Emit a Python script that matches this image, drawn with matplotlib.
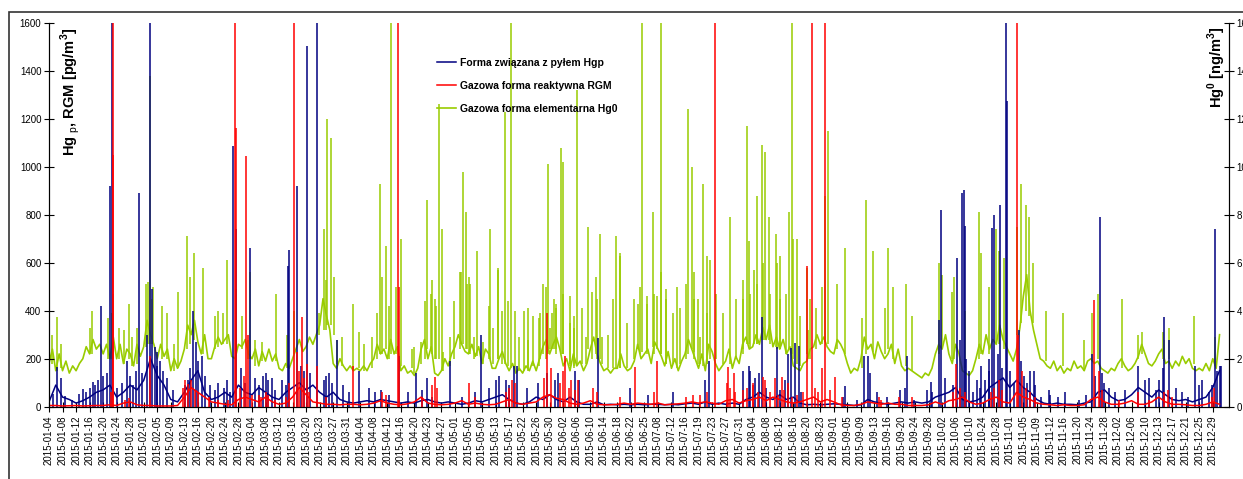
import numpy as np
import matplotlib.pyplot as plt
from matplotlib.patches import Rectangle

plt.rcParams['font.family'] = ['Liberation Sans', 'DejaVu Sans']
plt.rcParams['mathtext.fontset'] = 'custom'
plt.rcParams['mathtext.rm'] = 'Liberation Sans'
plt.rcParams['mathtext.bf'] = 'Liberation Sans:bold'

# tick labels (category axis, one label every ~4 days of hourly data)
dates = ['2015-01-04', '2015-01-08', '2015-01-12', '2015-01-16', '2015-01-20', '2015-01-24', '2015-01-28',
         '2015-02-01', '2015-02-05', '2015-02-09', '2015-02-13', '2015-02-16', '2015-02-20', '2015-02-24',
         '2015-02-28', '2015-03-04', '2015-03-08', '2015-03-12', '2015-03-16', '2015-03-20', '2015-03-23',
         '2015-03-27', '2015-03-31', '2015-04-04', '2015-04-08', '2015-04-12', '2015-04-16', '2015-04-20',
         '2015-04-23', '2015-04-27', '2015-05-01', '2015-05-05', '2015-05-09', '2015-05-13', '2015-05-17',
         '2015-05-22', '2015-05-26', '2015-05-30', '2015-06-02', '2015-06-06', '2015-06-10', '2015-06-14',
         '2015-06-18', '2015-06-22', '2015-06-25', '2015-07-08', '2015-07-12', '2015-07-16', '2015-07-19',
         '2015-07-23', '2015-07-27', '2015-07-31', '2015-08-04', '2015-08-08', '2015-08-12', '2015-08-16',
         '2015-08-20', '2015-08-23', '2015-09-01', '2015-09-05', '2015-09-09', '2015-09-13', '2015-09-16',
         '2015-09-20', '2015-09-24', '2015-09-28', '2015-10-02', '2015-10-06', '2015-10-10', '2015-10-24',
         '2015-10-28', '2015-11-01', '2015-11-05', '2015-11-09', '2015-11-12', '2015-11-16', '2015-11-20',
         '2015-11-24', '2015-11-28', '2015-12-02', '2015-12-06', '2015-12-10', '2015-12-13', '2015-12-17',
         '2015-12-21', '2015-12-25', '2015-12-29']

# Hgp [pg/m3], two readings per label interval
hgp_base = [20, 90, 40, 30, 15, 25, 40, 60, 70, 90, 40, 60, 90, 70, 110, 200, 130, 90, 30, 20,
            60, 110, 150, 60, 30, 40, 60, 40, 90, 60, 50, 80, 60, 40,
            30, 60, 80, 100, 70, 90, 60, 40, 60, 30, 20, 15, 20, 25, 20, 30, 25, 20, 15, 20,
            15, 25, 30, 20, 15, 20, 15, 10, 15, 25, 20, 30, 40, 50,
            30, 15, 10, 20, 40, 30, 50, 30, 20, 40, 20, 10, 10, 20, 8, 10, 8, 10, 8, 10,
            8, 10, 10, 8, 10, 8, 12, 15, 10, 20, 10, 15, 10, 15, 10, 30,
            40, 60, 40, 30, 50, 30, 40, 15, 8, 10, 8, 10, 12, 10, 8, 5, 8, 30, 20, 15,
            10, 15, 20, 15, 20, 15, 20, 40, 50, 60, 80, 30, 20, 25,
            40, 80, 100, 120, 80, 110, 80, 60, 30, 15, 10, 15, 10, 10, 8, 15, 20, 60, 70, 40,
            25, 30, 50, 80, 60, 40, 70, 50, 30, 25, 30, 20, 30, 40, 80, 150]

# RGM [pg/m3], two readings per label interval
rgm_base = [5, 5, 3, 4, 5, 3, 4, 5, 5, 8, 5, 15, 20, 8, 5, 5, 3, 3, 3, 5,
            40, 80, 60, 40, 20, 15, 10, 8, 30, 40, 30, 20, 40, 20,
            10, 15, 40, 80, 50, 20, 15, 10, 10, 8, 10, 10, 8, 10, 15, 25, 15, 10, 8, 12,
            20, 40, 15, 10, 8, 10, 15, 25, 10, 15, 10, 8, 10, 20,
            30, 15, 10, 15, 20, 40, 50, 35, 30, 15, 10, 15, 25, 10, 8, 8, 10, 15, 10, 15,
            12, 10, 15, 8, 10, 12, 15, 20, 15, 20, 15, 10, 25, 30, 15, 25,
            30, 40, 25, 40, 30, 20, 15, 20, 30, 40, 20, 30, 20, 8, 5, 5, 10, 20, 15, 10,
            15, 10, 10, 5, 5, 5, 8, 20, 10, 25, 30, 40, 20, 10,
            15, 30, 40, 20, 15, 60, 40, 30, 15, 10, 8, 5, 8, 5, 5, 8, 30, 40, 20, 10,
            10, 15, 25, 10, 10, 20, 40, 20, 10, 10, 8, 5, 5, 10, 20, 10]

# Hg0 [ng/m3], four readings per label interval
hg0_base = [1.8, 2.4, 1.5, 2.2, 1.5, 1.9, 1.4, 1.7, 1.5, 1.8, 2.0, 2.5, 2.2, 2.8, 2.4, 2.6,
            2.2, 2.6, 2.0, 2.9, 2.0, 2.6, 1.8, 2.4, 2.2, 1.7, 2.6, 2.1, 2.5, 3.6, 3.0, 2.6,
            2.0, 2.6, 2.1, 2.4, 1.5, 2.0, 1.6, 1.9, 2.4, 3.4, 3.0, 3.6, 2.7, 2.2, 3.0, 2.0,
            2.0, 2.5, 2.9, 2.6, 2.8, 3.0, 2.1, 2.0, 2.6, 2.5, 2.8, 2.2, 2.0, 2.4, 1.7, 2.3,
            1.9, 2.4, 1.9, 2.2, 1.6, 1.5, 1.8, 1.6, 2.0, 2.4, 2.8, 2.3, 2.5, 2.9, 2.6, 3.0,
            3.4, 4.5, 3.8, 3.2, 1.8, 1.6, 2.0, 1.7, 1.5, 1.7, 1.5, 1.6, 1.5, 1.7, 1.5, 1.8,
            2.0, 2.6, 2.2, 2.4, 2.0, 2.8, 2.2, 2.5, 1.5, 1.7, 1.4, 1.5, 1.3, 1.6, 2.4, 2.8,
            2.0, 2.5, 1.4, 1.3, 1.5, 2.0, 1.7, 2.2, 2.5, 3.0, 2.6, 2.3, 2.2, 2.6, 2.1, 2.5,
            1.8, 2.4, 2.2, 1.6, 1.6, 2.0, 2.3, 1.8, 1.5, 1.8, 1.4, 1.6, 1.4, 1.7, 1.5, 1.9,
            1.5, 2.0, 2.5, 2.8, 2.2, 2.6, 2.9, 2.4, 1.7, 2.0, 1.5, 2.2, 1.7, 1.9, 1.5, 1.8,
            2.4, 2.9, 2.2, 1.8, 1.5, 1.6, 1.4, 1.6, 1.6, 2.2, 1.7, 1.5, 1.6, 1.9, 2.6, 2.0,
            2.2, 2.4, 1.8, 2.7, 2.4, 2.1, 1.7, 2.3, 1.6, 2.0, 1.5, 1.9, 2.2, 2.8, 2.4, 2.0,
            1.6, 2.2, 1.5, 2.6, 2.3, 1.8, 1.5, 1.7, 1.9, 2.4, 1.6, 2.1, 1.8, 2.6, 2.9, 2.4,
            2.5, 3.0, 2.6, 3.3, 2.8, 3.4, 2.5, 2.9, 2.4, 2.8, 2.2, 2.5, 1.7, 1.6, 1.5, 1.8,
            1.9, 2.4, 2.5, 3.0, 2.6, 2.9, 2.5, 2.3, 2.2, 2.8, 2.6, 2.3, 1.8, 1.4, 1.6, 1.5,
            2.0, 2.9, 2.4, 2.6, 2.0, 2.7, 2.3, 2.0, 2.2, 2.6, 1.8, 2.4, 1.7, 1.5, 1.6, 1.5,
            1.4, 1.3, 1.2, 1.4, 1.3, 1.6, 2.2, 2.6, 2.4, 3.0, 2.2, 1.8, 2.6, 2.2, 1.5, 1.4,
            1.3, 1.5, 2.0, 2.6, 2.2, 3.0, 2.4, 2.8, 2.6, 3.4, 2.8, 2.5, 2.2, 1.9, 2.4, 3.3,
            4.6, 5.5, 4.0, 3.2, 2.6, 2.0, 1.9, 1.7, 1.6, 1.9, 1.5, 1.7, 1.4, 1.6, 1.5, 1.9,
            1.6, 1.7, 1.5, 1.9, 2.0, 1.8, 1.9, 1.6, 1.5, 1.4, 1.6, 1.5, 1.8, 2.0, 1.7, 1.5,
            1.6, 1.8, 2.1, 2.6, 2.2, 1.8, 1.7, 1.9, 2.2, 2.4, 1.8, 1.9, 1.6, 1.9, 1.7, 2.1,
            1.8, 2.0, 1.6, 1.5, 1.6, 1.5, 1.8, 1.5, 2.0, 1.6, 3.0]

# single-hour peaks: (position in label intervals, peak)
hgp_spikes = [(0.6, 165), (0.86, 120), (2.5, 75), (3.27, 105), (3.84, 420), (4.5, 920), (4.65, 1650),
              (5.74, 190), (6.43, 150), (6.67, 890), (7.22, 300), (7.46, 1650), (7.64, 490), (8.0, 170),
              (10.3, 110), (10.66, 400), (11.03, 190), (13.12, 110), (13.6, 1085), (13.8, 740),
              (14.85, 660), (16.0, 140), (16.5, 120), (17.75, 655), (17.65, 585), (18.3, 920),
              (19.05, 1505), (19.8, 1650), (20.5, 130), (21.3, 280), (22.9, 150), (25.87, 210),
              (27.1, 140), (27.96, 120), (29.6, 190), (31.9, 300), (33.25, 130), (33.75, 110),
              (34.36, 170), (34.56, 170), (35.3, 80), (36.16, 100), (36.77, 140), (37.4, 110),
              (37.6, 140), (38.87, 150), (39.2, 110), (40.6, 285), (42.9, 80), (44.3, 50), (46.1, 60),
              (48.5, 110), (48.8, 190), (51.3, 150), (51.7, 170), (51.8, 150), (52.5, 140), (52.7, 375),
              (53.8, 250), (54.6, 220), (54.8, 245), (55.1, 265), (55.4, 255), (58.8, 85), (60.25, 210),
              (60.5, 210), (60.7, 140), (62.9, 70), (63.4, 210), (64.9, 70), (65.2, 105), (65.8, 360),
              (65.9, 820), (67.1, 620), (67.3, 280), (67.5, 890), (67.6, 905), (67.7, 755), (68.6, 110),
              (68.9, 170), (69.5, 150), (69.7, 745), (69.8, 800), (70.1, 220), (70.3, 840), (70.74, 1650),
              (70.8, 1275), (71.7, 320), (71.8, 190), (72.5, 150), (72.8, 150), (73.9, 70), (75.1, 60),
              (77.1, 220), (77.7, 790), (77.8, 140), (80.5, 170), (82.4, 375), (82.8, 280), (84.7, 170),
              (86.15, 740), (86.3, 150), (86.6, 170)]

# smaller hourly excursions of Hgp
hgp_small = [(0.3, 55), (1.2, 45), (1.7, 30), (2.2, 55), (2.7, 60), (3.0, 80), (3.4, 90), (3.6, 110),
             (4.0, 130), (4.3, 140), (5.0, 80), (5.4, 100), (6.0, 130), (6.2, 90), (6.85, 140), (7.8, 250),
             (7.95, 230), (8.2, 190), (8.45, 150), (8.7, 120), (9.2, 70), (10.05, 90), (10.4, 160),
             (10.9, 270), (11.3, 210), (11.5, 130), (11.9, 90), (12.3, 70), (12.5, 100), (12.9, 80),
             (13.4, 60), (14.2, 160), (14.5, 100), (15.2, 120), (15.5, 90), (15.8, 130), (16.2, 110),
             (16.7, 70), (17.25, 110), (17.5, 90), (18.6, 170), (18.85, 150), (19.3, 140), (20.3, 110),
             (20.7, 140), (20.9, 100), (21.7, 90), (22.2, 60), (23.65, 80), (24.1, 60), (24.5, 70),
             (25.1, 50), (26.5, 60), (27.6, 70), (28.3, 40), (30.5, 40), (31.5, 60), (32.5, 80),
             (33.0, 110), (34.0, 90), (52.2, 120), (53.0, 80), (54.0, 70), (54.4, 110), (55.6, 60),
             (58.7, 40), (59.7, 30), (61.2, 60), (61.9, 40), (63.25, 80), (63.9, 30), (65.25, 60),
             (66.2, 120), (66.8, 90), (67.8, 200), (67.95, 150), (68.3, 60), (68.8, 80), (69.2, 110),
             (69.45, 200), (70.4, 160), (71.05, 150), (71.3, 100), (72.05, 130), (72.3, 100), (72.9, 90),
             (73.3, 40), (74.0, 50), (74.6, 40), (76.1, 30), (76.6, 50), (77.3, 130), (77.95, 100),
             (78.3, 80), (78.8, 60), (79.55, 70), (81.0, 110), (81.3, 120), (81.8, 70), (82.0, 110),
             (82.3, 160), (83.25, 80), (83.7, 60), (84.2, 40), (85.0, 90), (85.2, 110), (85.7, 60),
             (85.95, 90), (86.5, 170)]

rgm_spikes = [(4.6, 60), (4.72, 1050), (4.75, 1650), (5.9, 35), (7.45, 210), (13.77, 1650), (13.85, 1160),
              (14.55, 1045), (14.7, 300), (15.5, 50), (17.74, 100), (18.1, 1650), (18.35, 230),
              (18.7, 375), (19.1, 180), (19.8, 170), (22.5, 170), (25.8, 1650), (25.85, 500), (28.5, 125),
              (31.04, 100), (34.2, 110), (34.43, 100), (36.8, 390), (38.1, 210), (39.1, 110), (43.3, 165),
              (44.9, 190), (49.2, 1650), (50.15, 165), (50.6, 140), (52.0, 100), (52.8, 125), (53.65, 120),
              (54.2, 125), (54.6, 100), (56.05, 585), (56.35, 1650), (57.1, 160), (57.35, 1650),
              (58.08, 125), (67.0, 180), (70.2, 110), (71.5, 1650), (71.6, 300), (71.9, 150),
              (77.2, 445), (80.5, 60), (82.7, 70), (86.1, 80)]

rgm_small = [(5.6, 30), (9.9, 80), (10.05, 110), (10.3, 95), (10.5, 110), (10.8, 70), (11.0, 60),
             (11.8, 40), (12.5, 30), (13.25, 30), (14.1, 80), (14.4, 130), (15.0, 50), (15.7, 40),
             (16.0, 60), (16.2, 50), (16.7, 30), (17.5, 40), (18.5, 150), (18.85, 120), (19.2, 60),
             (20.45, 40), (24.6, 60), (24.9, 50), (27.6, 40), (28.3, 90), (28.7, 80), (31.5, 40),
             (33.75, 60), (34.0, 80), (36.6, 120), (37.1, 160), (37.75, 100), (38.0, 150), (38.4, 80),
             (38.6, 110), (38.9, 70), (40.2, 80), (40.5, 60), (42.2, 40), (44.7, 60), (47.1, 40),
             (47.6, 50), (48.1, 50), (48.6, 60), (50.1, 100), (50.3, 80), (50.7, 60), (51.3, 70),
             (51.55, 80), (52.05, 90), (52.4, 60), (52.9, 110), (53.3, 60), (53.9, 50), (54.3, 70),
             (54.9, 40), (55.25, 50), (55.75, 60), (56.6, 80), (56.85, 60), (57.7, 70), (58.6, 40),
             (61.3, 40), (61.5, 30), (62.8, 40), (63.75, 40), (66.8, 60), (67.3, 80), (67.7, 60),
             (69.6, 60), (69.8, 80), (70.45, 70), (72.2, 80), (72.5, 60), (72.9, 40), (77.6, 150),
             (77.8, 70), (79.1, 30), (81.3, 30), (82.4, 60), (83.0, 40), (85.95, 40)]

# (position, foot, peak) in ng/m3
hg0_spikes = [(0.25, 1.8, 3.0), (0.62, 1.5, 3.75), (0.86, 1.6, 2.6), (3.0, 2.2, 3.3), (3.2, 2.2, 4.0),
              (4.36, 2.0, 3.7), (4.63, 2.0, 3.9), (4.70, 2.0, 4.7), (5.17, 2.0, 3.3), (5.57, 1.8, 3.2),
              (5.91, 2.0, 4.3), (6.11, 1.7, 2.9), (6.48, 1.8, 3.3), (7.17, 2.5, 5.1), (7.29, 2.6, 5.2),
              (7.44, 2.6, 13.8), (7.59, 2.6, 4.5), (7.71, 2.6, 5.0), (8.33, 2.0, 4.2), (8.70, 2.0, 3.9),
              (9.26, 1.5, 2.6), (9.56, 1.6, 4.8), (10.22, 2.4, 7.1), (10.42, 2.6, 5.4), (10.69, 2.8, 6.4),
              (11.4, 2.2, 5.8), (12.27, 2.4, 3.8), (12.51, 2.5, 4.0), (12.88, 2.6, 3.9), (13.17, 2.6, 6.1),
              (13.8, 2.2, 4.9), (14.24, 2.4, 3.8), (14.73, 2.0, 2.8), (14.86, 2.0, 5.6), (15.22, 1.7, 2.8),
              (15.71, 1.9, 2.7), (16.75, 1.9, 4.7), (17.6, 1.6, 3.0), (18.1, 2.2, 4.0), (19.96, 3.0, 3.9),
              (20.33, 3.2, 7.4), (20.45, 3.2, 5.3), (20.57, 3.4, 12.0), (20.82, 3.4, 11.2),
              (21.06, 3.0, 5.4), (21.31, 1.8, 2.8), (21.68, 1.7, 2.9), (22.49, 1.5, 4.3), (22.91, 1.6, 3.1),
              (23.28, 1.5, 2.6), (23.9, 1.6, 2.9), (24.27, 2.0, 3.9), (24.44, 2.2, 9.3), (24.64, 2.2, 5.4),
              (24.88, 2.4, 6.7), (25.13, 2.0, 4.2), (25.25, 2.2, 16.5), (25.62, 2.2, 5.0),
              (26.01, 1.7, 7.0), (26.98, 1.4, 2.5), (27.91, 2.4, 8.6), (28.23, 2.4, 4.7), (28.58, 2.0, 4.2),
              (28.8, 2.0, 12.6), (29.05, 1.5, 7.4), (30.42, 2.6, 5.6), (30.57, 2.6, 9.8), (30.82, 2.4, 8.1),
              (31.04, 2.2, 5.4), (31.65, 2.1, 6.5), (32.62, 2.0, 7.4), (33.21, 2.0, 5.8), (33.7, 1.8, 12.3),
              (34.15, 1.6, 16.5), (35.4, 1.5, 2.8), (36.2, 1.7, 3.7), (36.7, 2.0, 5.0), (36.85, 2.2, 10.1),
              (37.2, 2.4, 3.9), (37.45, 2.4, 4.3), (37.8, 2.2, 10.8), (37.95, 2.2, 10.2), (38.5, 1.7, 4.6),
              (38.8, 1.6, 3.3), (39.05, 1.7, 13.2), (39.85, 2.4, 7.5), (40.4, 2.2, 5.4), (40.7, 2.0, 7.2),
              (41.9, 1.6, 7.1), (42.2, 1.6, 6.4), (43.5, 2.4, 4.3), (43.8, 2.3, 16.5), (44.2, 2.4, 4.3),
              (44.6, 2.5, 8.1), (44.95, 2.4, 4.6), (45.2, 2.2, 16.5), (45.6, 1.8, 4.9), (46.4, 1.6, 5.0),
              (47.2, 2.2, 12.4), (47.5, 2.4, 10.0), (47.7, 2.3, 5.6), (47.95, 1.8, 4.5), (48.3, 1.7, 9.3),
              (48.6, 1.8, 6.3), (48.85, 2.0, 6.1), (50.3, 1.8, 7.9), (51.3, 2.4, 4.5), (51.6, 2.6, 11.7),
              (51.75, 2.6, 6.9), (52.3, 2.6, 8.8), (52.7, 2.8, 10.9), (52.9, 2.8, 10.6), (53.2, 2.8, 7.9),
              (53.7, 2.5, 7.2), (54.0, 2.4, 6.3), (54.7, 2.4, 8.1), (54.9, 2.2, 16.5), (55.3, 1.8, 7.0),
              (56.1, 2.0, 3.2), (56.0, 2.2, 5.8), (57.1, 2.6, 5.0), (57.35, 2.7, 8.8), (57.55, 2.6, 11.5),
              (58.2, 2.4, 5.1), (58.8, 2.2, 6.6), (60.1, 1.6, 3.7), (60.4, 2.2, 8.6), (60.9, 2.3, 6.5),
              (61.8, 2.2, 4.1), (62.0, 2.4, 6.6), (62.4, 2.0, 5.0), (63.3, 1.7, 5.1), (63.8, 1.5, 3.8),
              (65.8, 2.2, 6.0), (66.0, 2.4, 5.5), (66.7, 2.0, 4.8), (66.9, 2.0, 5.4), (67.7, 1.6, 4.0),
              (68.7, 2.0, 8.1), (68.9, 2.2, 6.4), (69.5, 2.2, 5.0), (70.0, 2.6, 7.4), (70.2, 2.6, 6.5),
              (70.6, 2.4, 6.2), (71.5, 3.0, 7.5), (71.8, 3.5, 9.3), (72.2, 4.0, 8.4), (72.4, 3.8, 7.9),
              (72.7, 3.5, 6.0), (73.7, 1.9, 4.0), (74.9, 1.7, 3.9), (76.5, 1.5, 2.8), (77.1, 1.9, 3.9),
              (77.5, 2.0, 4.7), (79.3, 1.6, 4.5), (80.5, 2.0, 3.0), (80.8, 2.2, 3.1), (82.3, 2.0, 3.1),
              (82.4, 1.9, 2.8), (82.8, 2.0, 3.3), (84.6, 1.8, 3.8), (86.2, 1.7, 2.9)]

# smaller daily peaks of Hg0 in spring and summer
hg0_small = [(26.8, 1.6, 2.4), (27.5, 1.8, 2.7), (27.8, 2.0, 4.4), (28.3, 2.2, 5.3), (28.5, 2.0, 4.5),
             (29.1, 1.5, 2.3), (29.6, 1.7, 2.9), (29.9, 2.0, 4.4), (30.4, 2.4, 5.6), (30.9, 2.4, 5.1),
             (31.1, 2.2, 5.1), (31.4, 2.0, 2.9), (32.1, 1.8, 2.7), (32.5, 2.0, 4.2), (32.8, 1.8, 3.3),
             (33.2, 2.0, 5.7), (33.5, 1.8, 4.0), (33.9, 1.7, 4.4), (34.4, 1.5, 4.0), (34.7, 1.5, 2.9),
             (35.1, 1.5, 4.0), (35.4, 1.6, 4.1), (35.8, 1.7, 3.8), (36.3, 2.0, 3.9), (36.5, 2.2, 5.1),
             (37.0, 2.4, 3.3), (37.3, 2.4, 4.5), (37.5, 2.2, 4.1), (38.0, 2.2, 4.7), (38.5, 1.8, 3.5),
             (38.8, 1.7, 3.8), (39.4, 1.8, 4.1), (39.7, 1.8, 2.9), (40.1, 2.0, 4.8), (40.5, 2.0, 4.5),
             (40.9, 1.8, 2.9), (41.3, 1.6, 3.0), (41.7, 1.6, 4.5), (42.2, 1.6, 6.3), (42.7, 1.6, 3.5),
             (43.2, 2.0, 4.5), (43.7, 2.2, 5.0), (44.2, 2.2, 4.6), (44.7, 2.2, 4.7), (45.2, 2.2, 5.6),
             (45.6, 1.8, 4.5), (46.1, 1.8, 3.9), (46.6, 1.8, 4.1), (47.1, 2.0, 5.1), (47.7, 2.0, 4.5),
             (48.1, 1.8, 2.9), (48.6, 1.8, 3.9), (49.3, 2.0, 4.7), (49.8, 1.8, 3.9), (50.8, 2.0, 4.5),
             (51.3, 2.2, 5.3), (51.8, 2.4, 4.7), (52.1, 2.6, 5.7), (52.3, 2.6, 5.1), (52.8, 2.8, 6.0),
             (53.3, 2.6, 4.7), (53.8, 2.4, 6.0), (54.0, 2.4, 4.5), (54.5, 2.2, 4.7), (55.0, 2.0, 7.0),
             (55.5, 1.7, 3.8), (56.2, 2.0, 4.5), (56.7, 2.4, 4.1)]

blue = '#000080'
red = '#ff0000'
green = '#99cc00'

W, H = 1243, 479
fig = plt.figure(figsize=(W / 100, H / 100), dpi=100)
ax = fig.add_axes([49 / W, 1 - 406.7 / H, (1229 - 49) / W, (406.7 - 22.7) / H])
ax2 = ax.twinx()

# Hg0 on the secondary axis, drawn behind the other two
t0 = np.arange(len(hg0_base)) * 0.25
s = np.array(hg0_spikes + hg0_small)
l3, = ax2.plot(t0, hg0_base, color=green, lw=1.2)
ax2.vlines(s[:, 0], s[:, 1], s[:, 2], color=green, lw=1.1)

t1 = np.arange(len(hgp_base)) * 0.5
s = np.array(hgp_spikes + hgp_small)
l1, = ax.plot(t1, hgp_base, color=blue, lw=1.1)
ax.vlines(s[:, 0], 0, s[:, 1], color=blue, lw=1.1)

t2 = np.arange(len(rgm_base)) * 0.5
s = np.array(rgm_spikes + rgm_small)
l2, = ax.plot(t2, rgm_base, color=red, lw=1.1)
ax.vlines(s[:, 0], 0, s[:, 1], color=red, lw=1.1)

ax.set_zorder(ax2.get_zorder() + 1)
ax.patch.set_visible(False)

ax.set_xlim(0, 87.2)
ax.set_ylim(0, 1600)
ax2.set_ylim(0, 16)
ax.set_yticks(range(0, 1601, 200))
ax2.set_yticks(range(0, 17, 2))
ax.set_xticks(np.arange(len(dates)))
ax.set_xticklabels(dates, rotation=90)

for a in (ax, ax2):
    a.spines['top'].set_visible(False)
    a.tick_params(direction='inout', length=7, width=0.8, labelsize=7, pad=2)
ax.tick_params(axis='x', pad=3)

fig.text(70 / W, 1 - 92 / H, 'Hg $_{\\mathrm{p}}$, RGM [pg/m$^{\\mathbf{3}}$]', rotation=90,
         fontsize=10.5, fontweight='bold', ha='center', va='center')
fig.text(1217 / W, 1 - 67 / H, 'Hg$^{\\mathbf{0}}$ [ng/m$^{\\mathbf{3}}$]', rotation=90,
         fontsize=10.5, fontweight='bold', ha='center', va='center')

ax.legend([l1, l2, l3],
          ['Forma związana z pyłem Hgp', 'Gazowa forma reaktywna RGM', 'Gazowa forma elementarna Hg0'],
          loc='upper left', bbox_to_anchor=(437 / W, 1 - 58 / H), bbox_transform=fig.transFigure,
          frameon=False, prop={'weight': 'bold', 'size': 7.5}, handlelength=1.8,
          handletextpad=0.4, labelspacing=1.25, borderpad=0, borderaxespad=0)

# outer chart border
fig.patches.append(Rectangle((9 / W, -0.05), 1.0, 1 - 12 / H + 0.05, transform=fig.transFigure,
                             fill=False, edgecolor='#333333', lw=1.2))

fig.savefig('out.png', dpi=100)
